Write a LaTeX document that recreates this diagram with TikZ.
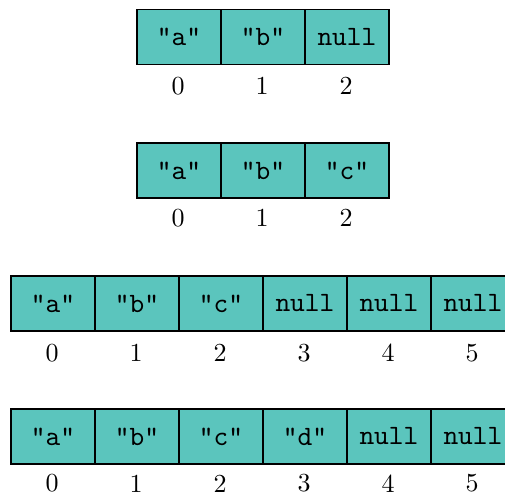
\documentclass[tikz,border=0pt]{standalone}
\usepackage{fontspec}
\newfontfamily\idxfont{lmroman10-regular.otf}
\newfontfamily\cellfont{lmmono10-regular.otf}
\definecolor{cellfill}{RGB}{91,197,189}
\tikzset{
  cell/.style={draw=black, fill=cellfill, line width=1.8pt, minimum width=84pt, minimum height=55pt, inner sep=0pt, font=\cellfont\fontsize{28}{30}\selectfont, anchor=west},
  idx/.style={font=\idxfont\fontsize{26}{28}\selectfont, inner sep=0pt}
}
\begin{document}
\begin{tikzpicture}[x=1pt,y=-1pt]
\useasboundingbox (0,0) rectangle (505,497);
\clip (0,0) rectangle (505,497);
% row 1
\foreach \t [count=\i from 0] in {"a","b",null}{
  \node[cell] (a\i) at (136+84*\i,37) {\t};
  \node[idx] (ai\i) at (178+84*\i,86) {\i};
}
% row 2
\foreach \t [count=\i from 0] in {"a","b","c"}{
  \node[cell] (b\i) at (136+84*\i,170.5) {\t};
  \node[idx] (bi\i) at (178+84*\i,218) {\i};
}
% row 3
\foreach \t [count=\i from 0] in {"a","b","c",null,null,null}{
  \node[cell] (c\i) at (10+84*\i,303.5) {\t};
  \node[idx] (ci\i) at (52+84*\i,353) {\i};
}
% row 4
\foreach \t [count=\i from 0] in {"a","b","c","d",null,null}{
  \node[cell] (d\i) at (10+84*\i,436.5) {\t};
  \node[idx] (di\i) at (52+84*\i,483.5) {\i};
}
\end{tikzpicture}
\end{document}
